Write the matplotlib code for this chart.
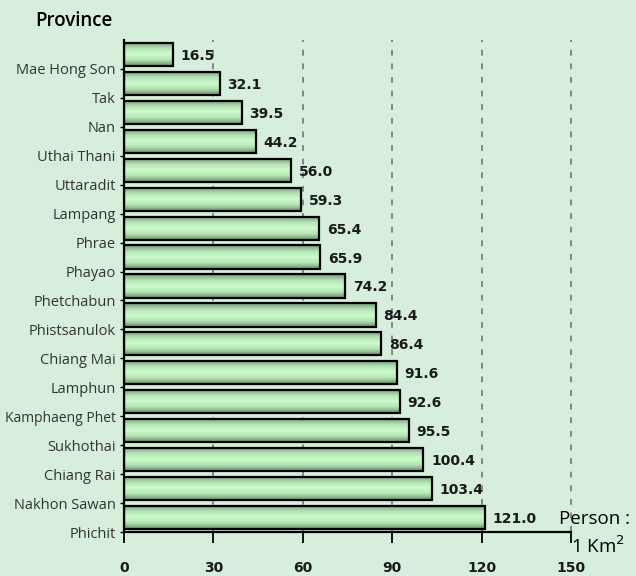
import numpy as np
import matplotlib
matplotlib.use('Agg')
import matplotlib.pyplot as plt
from matplotlib.colors import LinearSegmentedColormap

provinces = ['Mae Hong Son', 'Tak', 'Nan', 'Uthai Thani', 'Uttaradit', 'Lampang',
             'Phrae', 'Phayao', 'Phetchabun', 'Phistsanulok', 'Chiang Mai', 'Lamphun',
             'Kamphaeng Phet', 'Sukhothai', 'Chiang Rai', 'Nakhon Sawan', 'Phichit']
density = [16.5, 32.1, 39.5, 44.2, 56.0, 59.3, 65.4, 65.9, 74.2, 84.4,
           86.4, 91.6, 92.6, 95.5, 100.4, 103.4, 121.0]
xticks = [0, 30, 60, 90, 120, 150]

bg = '#d6eedb'
plt.rcParams['font.family'] = ['Open Sans', 'DejaVu Sans']

fig = plt.figure(figsize=(6.36, 5.76), dpi=100, facecolor=bg)
ax = fig.add_axes([124/636, 1-532/576, (571-124)/636, (532-40)/576])
ax.set_facecolor(bg)

n = len(density)
ypos = np.arange(n)
h = 0.8

# vertical gradient for the bars: dark edges, light middle
cmap = LinearSegmentedColormap.from_list('g', ['#74987a', '#b4e2b4', '#ccfccc', '#b4e2b4', '#6a8f6a'])
grad = np.linspace(0, 1, 64).reshape(-1, 1)
for y, v in zip(ypos, density):
    ax.imshow(grad, cmap=cmap, aspect='auto', extent=[0, v, y + h/2, y - h/2],
              zorder=2, interpolation='bilinear')
ax.barh(ypos, density, height=h, facecolor='none', edgecolor='black', linewidth=1.6, zorder=3)

for y, v in zip(ypos, density):
    ax.text(v + 2.6, y + 0.05, f'{v:.1f}', va='center', ha='left', fontsize=10,
            fontweight='bold', family='DejaVu Sans', color='#1a1a1a', zorder=4)

ax.set_xlim(0, 150)
ax.set_ylim(n - 0.55, -0.5)
ax.set_xticks(xticks)
ax.set_xticklabels([str(t) for t in xticks], fontsize=10, fontweight='bold',
                   family='DejaVu Sans', color='#1a1a1a')
ax.tick_params(axis='x', direction='out', length=8, width=1.3, pad=13)
ax.set_yticks(ypos + 0.5)
ax.set_yticklabels(provinces, fontsize=10.5, color='#333333')
ax.tick_params(axis='y', direction='out', length=3, width=1, pad=3)
for lbl in ax.get_yticklabels():
    if lbl.get_text() == 'Kamphaeng Phet':
        lbl.set_fontsize(10)

for x in xticks[1:]:
    ax.axvline(x, color='#858585', linestyle=(0, (3, 4)), linewidth=1.4, zorder=1, clip_on=False)

for s in ['top', 'right']:
    ax.spines[s].set_visible(False)
ax.spines['left'].set_linewidth(1.6)
ax.spines['bottom'].set_linewidth(1.6)
ax.spines['bottom'].set_bounds(0, 150)

fig.text(35/636, 1-21/576, 'Province', fontsize=13.5, fontweight='semibold', va='center', ha='left')
fig.text(559/636, 1-519/576, 'Person :', fontsize=13.5, va='center', ha='left')
fig.text(571/636, 1-546/576, r'1 Km$^{2}$', fontsize=13.5, va='center', ha='left')

fig.savefig('out.png', dpi=100, facecolor=bg)
